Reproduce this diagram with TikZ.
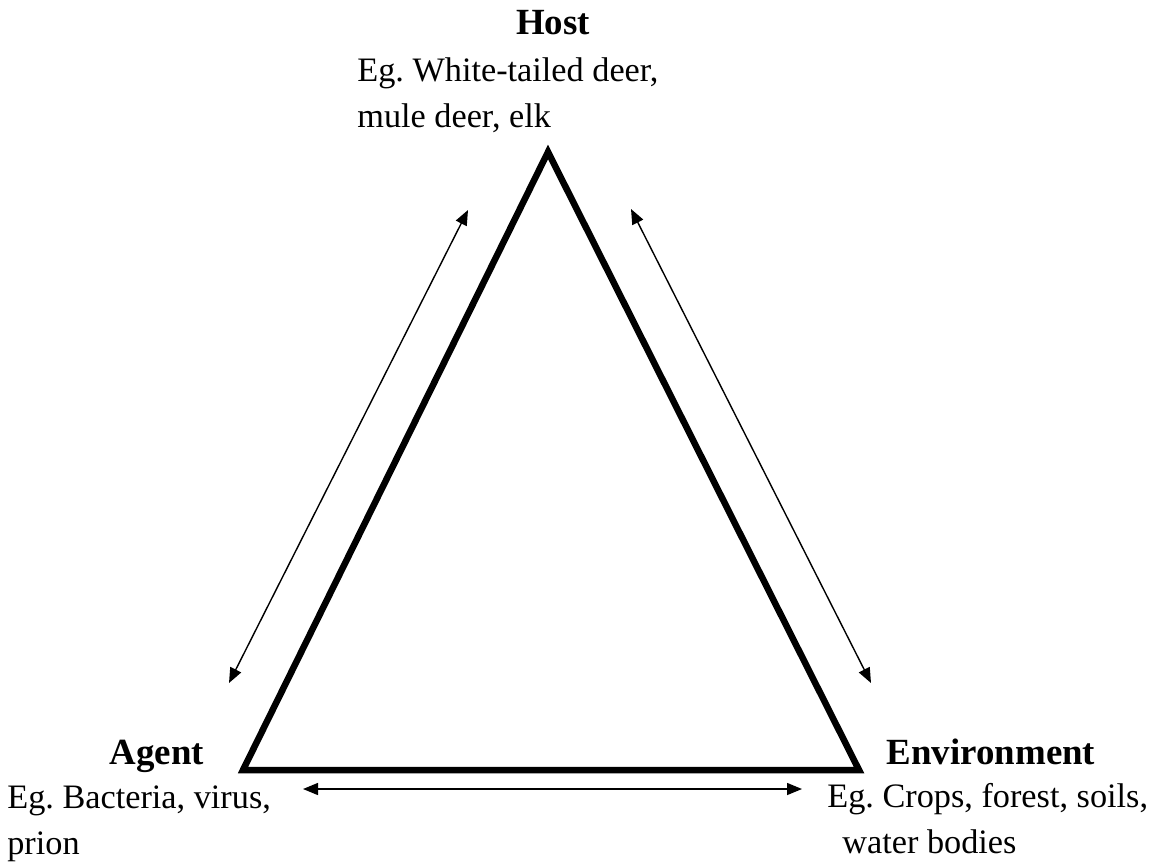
\documentclass[tikz,border=0pt]{standalone}
\usepackage{fontspec}
\setmainfont{Liberation Serif}
\usetikzlibrary{arrows.meta}
\frenchspacing

\begin{document}
\begin{tikzpicture}[x=0.02cm, y=-0.02cm,
  side/.style={line width=3.7pt, line join=miter},
  arr/.style={{Triangle[length=0.3cm,width=0.24cm]}-{Triangle[length=0.3cm,width=0.24cm]}, line width=0.8pt},
  title/.style={font=\fontsize{21}{25}\selectfont\bfseries, inner sep=0pt, anchor=base},
  desc/.style={font=\fontsize{19.5}{26}\selectfont, align=left, inner sep=0pt, anchor=base west}
]
  \useasboundingbox (0,0) rectangle (1155,865);

  % corners of the triad
  \coordinate (host) at (548,152);
  \coordinate (agent) at (243,770);
  \coordinate (env) at (859,770);
  \draw[side] (host) -- (agent) -- (env) -- cycle;

  % labels (desc nodes sit on their last line)
  \node[title] (hosttitle) at (553,35) {Host};
  \node[desc] (hostdesc) at (357,127) {Eg. White-tailed deer,\\mule deer, elk};
  \node[title] (agenttitle) at (157,764) {Agent};
  \node[desc] (agentdesc) at (7,854) {Eg. Bacteria, virus,\\prion};
  \node[title] (envtitle) at (991,764) {Environment};
  \node[desc] (envdesc) at (827,853) {Eg. Crops, forest, soils,\\\hspace*{0.3cm}water bodies};

  % interactions
  \coordinate (ah1) at (229,683);
  \coordinate (ah2) at (468,210);
  \coordinate (he1) at (631,209);
  \coordinate (he2) at (871,683);
  \coordinate (ae1) at (303,789);
  \coordinate (ae2) at (802,789);
  \draw[arr] (ah1) -- (ah2);
  \draw[arr] (he1) -- (he2);
  \draw[arr] (ae1) -- (ae2);
\end{tikzpicture}
\end{document}
